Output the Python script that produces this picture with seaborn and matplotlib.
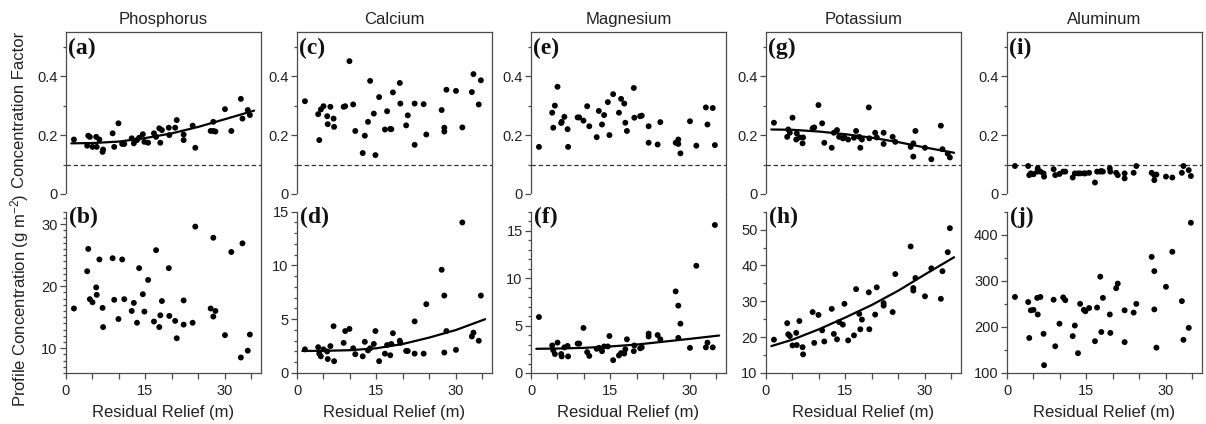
import matplotlib
matplotlib.use("Agg")
import matplotlib.pyplot as plt
import seaborn as sns
import pandas as pd
from matplotlib.ticker import FixedLocator, NullLocator

# ---------------- data ----------------
relief = [1.5, 4.0, 4.2, 4.5, 5.0, 5.7, 5.8, 6.3, 6.9, 7.0, 8.8, 9.1, 9.9, 10.6, 11.0,
          12.4, 12.8, 13.4, 13.8, 14.5, 14.8, 15.5, 16.6, 17.0, 17.6, 17.8, 18.1, 19.4,
          19.5, 20.6, 20.9, 22.2, 22.2, 23.9, 24.4, 27.3, 27.8, 27.8, 28.2, 30.0, 31.2,
          33.0, 33.3, 34.3, 34.7]

p_cf = [0.185, 0.164, 0.198, 0.194, 0.16, 0.194, 0.16, 0.185, 0.143, 0.151, 0.206, 0.16,
        0.24, 0.17, 0.17, 0.189, 0.172, 0.183, 0.191, 0.203, 0.177, 0.174, 0.206, 0.194,
        0.223, 0.174, 0.217, 0.225, 0.2, 0.225, 0.251, 0.202, 0.183, 0.232, 0.157, 0.214,
        0.214, 0.245, 0.212, 0.288, 0.214, 0.323, 0.256, 0.285, 0.268]
p_pc = [16.4, 22.4, 26.0, 17.9, 17.4, 19.8, 18.6, 24.3, 16.5, 13.4, 24.5, 17.8, 14.7, 24.3,
        17.9, 16.0, 17.3, 14.1, 22.9, 18.7, 15.9, 21.0, 14.3, 25.8, 13.4, 15.3, 17.6, 22.9,
        15.2, 14.4, 11.6, 17.7, 13.8, 14.1, 29.6, 16.4, 27.8, 15.1, 16.0, 12.1, 25.5, 8.5,
        26.9, 9.6, 12.2]
ca_cf = [0.315, 0.271, 0.183, 0.287, 0.298, 0.264, 0.237, 0.296, 0.256, 0.228, 0.296, 0.298,
         0.451, 0.304, 0.214, 0.139, 0.198, 0.245, 0.384, 0.273, 0.132, 0.329, 0.219, 0.281,
         0.221, 0.22, 0.345, 0.377, 0.307, 0.233, 0.267, 0.307, 0.167, 0.305, 0.202, 0.285,
         0.212, 0.225, 0.354, 0.35, 0.226, 0.346, 0.407, 0.304, 0.386]
ca_pc = [2.2, 2.4, 1.8, 1.55, 2.2, 2.0, 1.3, 2.5, 4.35, 1.1, 2.8, 3.9, 4.1, 2.3, 1.75, 1.55,
         2.9, 2.1, 2.3, 2.7, 3.9, 1.1, 1.8, 2.6, 1.65, 2.7, 3.7, 3.0, 2.8, 2.05, 2.05, 4.8,
         1.8, 1.8, 6.4, 9.6, 1.9, 7.2, 3.9, 2.15, 14.0, 3.4, 3.75, 3.0, 7.2]
mg_cf = [0.16, 0.276, 0.225, 0.3, 0.364, 0.241, 0.245, 0.262, 0.22, 0.16, 0.26, 0.26, 0.249,
         0.298, 0.23, 0.193, 0.282, 0.236, 0.268, 0.312, 0.2, 0.339, 0.276, 0.323, 0.307,
         0.242, 0.214, 0.36, 0.259, 0.264, 0.266, 0.23, 0.174, 0.168, 0.244, 0.174, 0.185,
         0.17, 0.138, 0.247, 0.164, 0.294, 0.236, 0.292, 0.166]
mg_pc = [5.9, 2.9, 2.4, 2.0, 3.2, 2.0, 1.75, 2.7, 2.85, 1.75, 3.1, 3.1, 4.75, 2.2, 1.8, 2.55,
         2.65, 2.3, 2.8, 2.8, 3.9, 1.35, 1.85, 2.1, 2.05, 2.5, 3.55, 2.3, 2.9, 2.6, 2.7, 4.15,
         3.85, 4.0, 3.55, 8.6, 3.7, 7.1, 5.2, 2.65, 11.3, 2.7, 3.2, 2.7, 15.6]
k_cf = [0.242, 0.194, 0.219, 0.208, 0.259, 0.185, 0.206, 0.192, 0.172, 0.192, 0.223, 0.226,
        0.302, 0.24, 0.174, 0.157, 0.208, 0.217, 0.194, 0.189, 0.192, 0.185, 0.191, 0.214,
        0.194, 0.157, 0.185, 0.294, 0.189, 0.208, 0.192, 0.17, 0.208, 0.194, 0.177, 0.16,
        0.172, 0.127, 0.214, 0.157, 0.118, 0.232, 0.152, 0.137, 0.124]
k_pc = [19.3, 23.9, 20.8, 20.3, 17.7, 21.2, 17.8, 24.5, 17.2, 15.2, 27.0, 18.4, 26.2, 21.9,
        18.8, 27.9, 20.9, 19.4, 24.2, 23.5, 29.3, 19.1, 20.5, 33.4, 26.5, 22.2, 24.9, 32.5,
        22.2, 26.3, 33.9, 29.5, 28.8, 27.0, 37.6, 45.3, 33.0, 33.7, 36.5, 31.4, 39.2, 30.7,
        38.4, 43.7, 50.4]
al_cf = [0.095, 0.095, 0.064, 0.07, 0.067, 0.076, 0.087, 0.076, 0.07, 0.059, 0.084, 0.064,
         0.068, 0.076, 0.076, 0.056, 0.07, 0.07, 0.07, 0.07, 0.07, 0.072, 0.039, 0.076, 0.076,
         0.078, 0.076, 0.087, 0.076, 0.072, 0.064, 0.053, 0.07, 0.072, 0.095, 0.072, 0.064,
         0.047, 0.066, 0.059, 0.056, 0.072, 0.095, 0.081, 0.061]
al_pc = [265, 254, 176, 236, 237, 263, 227, 265, 185, 117, 259, 158, 207, 264, 258, 180, 203,
         143, 250, 237, 234, 241, 169, 242, 309, 189, 263, 227, 187, 284, 294, 236, 167, 231,
         250, 352, 238, 321, 155, 287, 363, 256, 172, 198, 426]

# fitted curves
fit_x = [1, 5, 10, 15, 20, 25, 30, 35.5]
p_cf_fit = [0.172, 0.173, 0.178, 0.19, 0.206, 0.228, 0.254, 0.283]
ca_pc_fit = [2.05, 2.06, 2.12, 2.3, 2.7, 3.3, 4.0, 5.0]
mg_pc_fit = [2.55, 2.58, 2.65, 2.8, 3.0, 3.3, 3.6, 3.95]
k_cf_fit = [0.219, 0.218, 0.212, 0.203, 0.191, 0.176, 0.158, 0.14]
k_pc_fit = [17.5, 19.3, 22.2, 25.5, 29.0, 33.0, 37.5, 42.3]

elements = ["Phosphorus", "Calcium", "Magnesium", "Potassium", "Aluminum"]
top_vals = [p_cf, ca_cf, mg_cf, k_cf, al_cf]
bot_vals = [p_pc, ca_pc, mg_pc, k_pc, al_pc]
top_fits = [p_cf_fit, None, None, k_cf_fit, None]
bot_fits = [None, ca_pc_fit, mg_pc_fit, k_pc_fit, None]
top_letters = ["(a)", "(c)", "(e)", "(g)", "(i)"]
bot_letters = ["(b)", "(d)", "(f)", "(h)", "(j)"]

# bottom y-axis: (lower limit, spine top, major ticks, minor step)
bot_axes_cfg = [
    (6, 32, [10, 20, 30], 1),
    (0, 15, [0, 5, 10, 15], 1),
    (0, 17, [0, 5, 10, 15], 1),
    (10, 55, [10, 20, 30, 40, 50], 5),
    (100, 450, [100, 200, 300, 400], 50),
]

# ---------------- style ----------------
sns.set_theme(style="ticks")
plt.rcParams["font.family"] = ["Liberation Sans", "DejaVu Sans"]
plt.rcParams["mathtext.default"] = "regular"

SPINE = "#4a4a4a"
TXT = "#222222"
W, H = 1206, 424
lefts = [66, 297, 531, 766, 1007]
width = 195
y_top, y_mid, y_bot = 32, 194, 373
spine_top_px = 211.7
XMAX = 36.8
DOT = 18

fig = plt.figure(figsize=(W / 100, H / 100), dpi=100)


def style_ticks(ax):
    ax.tick_params(axis="both", which="both", direction="out", colors=SPINE,
                   labelcolor=TXT, labelsize=10.5, width=0.9, pad=2)
    ax.tick_params(axis="both", which="major", length=4)
    ax.tick_params(axis="y", which="minor", length=2.4)
    ax.tick_params(axis="x", which="minor", length=4)
    for s in ax.spines.values():
        s.set_color(SPINE)
        s.set_linewidth(0.9)


for i in range(5):
    l = lefts[i]
    ax_t = fig.add_axes([l / W, 1 - y_mid / H, width / W, (y_mid - y_top) / H])
    ax_b = fig.add_axes([l / W, 1 - y_bot / H, width / W, (y_bot - y_mid) / H])

    # ---- top: concentration factor ----
    df_t = pd.DataFrame({"x": relief, "y": top_vals[i]})
    ax_t.axhline(0.1, color="#333333", lw=0.9, ls=(0, (3.5, 2.2)), zorder=1)
    sns.scatterplot(data=df_t, x="x", y="y", ax=ax_t, color="black", s=DOT,
                    edgecolor="none", legend=False, zorder=3)
    if top_fits[i] is not None:
        sns.lineplot(x=fit_x, y=top_fits[i], ax=ax_t, color="black", lw=1.6,
                     sort=False, estimator=None, zorder=4)
    ax_t.set_xlim(0, XMAX)
    ax_t.set_ylim(0, 0.55)
    ax_t.yaxis.set_major_locator(FixedLocator([0, 0.2, 0.4]))
    ax_t.yaxis.set_minor_locator(FixedLocator([0.1, 0.3, 0.5]))
    ax_t.set_yticklabels(["0", "0.2", "0.4"])
    ax_t.xaxis.set_major_locator(NullLocator())
    ax_t.xaxis.set_minor_locator(NullLocator())
    ax_t.spines["bottom"].set_visible(False)
    style_ticks(ax_t)
    ax_t.set_xlabel("")
    ax_t.set_ylabel("")
    ax_t.set_title(elements[i], fontsize=12, color=TXT, pad=6)
    ax_t.text(0.012, 0.965, top_letters[i], transform=ax_t.transAxes, ha="left", va="top",
              fontsize=17, fontweight="bold", family="Liberation Serif", color="#111111")

    # ---- bottom: profile concentration ----
    low, stop, majors, mstep = bot_axes_cfg[i]
    high = low + (stop - low) * (y_bot - y_mid) / (y_bot - spine_top_px)
    df_b = pd.DataFrame({"x": relief, "y": bot_vals[i]})
    sns.scatterplot(data=df_b, x="x", y="y", ax=ax_b, color="black", s=DOT,
                    edgecolor="none", legend=False, zorder=3)
    if bot_fits[i] is not None:
        sns.lineplot(x=fit_x, y=bot_fits[i], ax=ax_b, color="black", lw=1.6,
                     sort=False, estimator=None, zorder=4)
    ax_b.set_xlim(0, XMAX)
    ax_b.set_ylim(low, high)
    ax_b.spines["top"].set_visible(False)
    ax_b.spines["left"].set_bounds(low, stop)
    ax_b.yaxis.set_major_locator(FixedLocator(majors))
    minors = []
    v = low
    while v <= stop + 1e-9:
        if all(abs(v - m) > 1e-9 for m in majors):
            minors.append(v)
        v += mstep
    ax_b.yaxis.set_minor_locator(FixedLocator(minors))
    ax_b.xaxis.set_major_locator(FixedLocator([0, 15, 30]))
    ax_b.xaxis.set_minor_locator(FixedLocator([5, 10, 20, 25, 35]))
    style_ticks(ax_b)
    ax_b.tick_params(axis="x", pad=4)
    ax_b.set_ylabel("")
    ax_b.set_xlabel("Residual Relief (m)", fontsize=12, color=TXT, labelpad=5)
    ax_b.text(0.015, 0.93, bot_letters[i], transform=ax_b.transAxes, ha="left", va="top",
              fontsize=17, fontweight="bold", family="Liberation Serif", color="#111111")

fig.text(20 / W, 1 - 110 / H, "Concentration Factor", rotation=90, ha="center", va="center",
         fontsize=12, color=TXT)
fig.text(20 / W, 1 - 300 / H, "Profile Concentration (g m$^{-2}$)", rotation=90, ha="center",
         va="center", fontsize=12, color=TXT)

fig.savefig("out.png", dpi=100)
